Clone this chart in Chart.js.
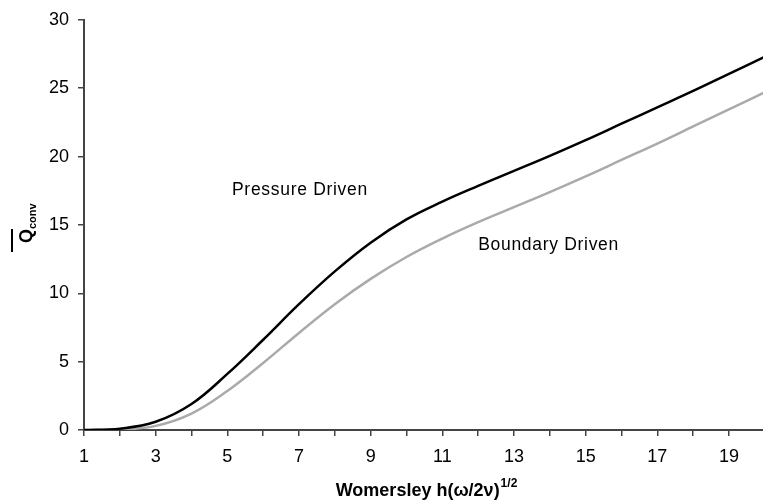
<!DOCTYPE html>
<html>
<head>
<meta charset="utf-8">
<script src="https://cdn.jsdelivr.net/npm/chart.js@4"></script>
<style>
  html, body { margin: 0; padding: 0; background: #fff; }
  #wrap { width: 763px; height: 504px; }
</style>
</head>
<body>
<div id="wrap"><canvas id="chart" width="763" height="504"></canvas></div>
<script>
// dados
const womersley = [1, 2, 3, 4, 5, 6, 7, 8, 9, 10, 11, 12, 13, 14, 15, 16, 17, 18, 19, 20];
const pressureDriven = [0, 0.1, 0.6, 1.9, 4.1, 6.6, 9.2, 11.6, 13.7, 15.4, 16.7, 17.85, 18.95, 20.05, 21.2, 22.4, 23.6, 24.8, 26.05, 27.3];
const boundaryDriven = [0, 0.03, 0.3, 1.2, 2.85, 4.9, 7.1, 9.2, 11.05, 12.65, 14.0, 15.2, 16.3, 17.4, 18.55, 19.75, 20.95, 22.2, 23.45, 24.7];
const xTickLabels = [1, 3, 5, 7, 9, 11, 13, 15, 17, 19];
const yTicks = [0, 5, 10, 15, 20, 25, 30];

const FONT = "'Liberation Sans', Arial, Helvetica, sans-serif";
const AXIS = '#444';

function toPoints(values) {
  return womersley.map((x, i) => ({ x: x, y: values[i] }));
}

// Plugin para desenhar títulos e rótulos das curvas
const textPlugin = {
  id: 'textos',
  afterDraw(chart) {
    const ctx = chart.ctx;
    const xs = chart.scales.x;
    const ys = chart.scales.y;
    ctx.save();
    ctx.fillStyle = '#000';

    // rótulos das curvas
    ctx.font = '17.5px ' + FONT;
    ctx.letterSpacing = '0.7px';
    ctx.textAlign = 'left';
    ctx.textBaseline = 'alphabetic';
    ctx.fillText('Pressure Driven', xs.getPixelForValue(5.13), ys.getPixelForValue(17.2));
    ctx.fillText('Boundary Driven', xs.getPixelForValue(12.0), ys.getPixelForValue(13.16));
    ctx.letterSpacing = '0px';

    // título do eixo x com expoente
    const main = 'Womersley h(\u03C9/2\u03BD)';
    const sup = '1/2';
    ctx.font = 'bold 18px ' + FONT;
    const wMain = ctx.measureText(main).width;
    ctx.font = 'bold 12px ' + FONT;
    const wSup = ctx.measureText(sup).width;
    const startX = 426 - (wMain + wSup) / 2;
    ctx.font = 'bold 18px ' + FONT;
    ctx.fillText(main, startX, 496);
    ctx.font = 'bold 12px ' + FONT;
    ctx.fillText(sup, startX + wMain + 1, 487);

    // título do eixo y: Q com barra e subscrito "conv"
    ctx.translate(32, 243);
    ctx.rotate(-Math.PI / 2);
    ctx.font = 'bold 18px ' + FONT;
    const wQ = ctx.measureText('Q').width;
    ctx.fillText('Q', 0, 0);
    ctx.font = 'bold 11px ' + FONT;
    ctx.fillText('conv', wQ, 4);
    ctx.strokeStyle = '#000';
    ctx.lineWidth = 2;
    ctx.beginPath();
    ctx.moveTo(-9, -20);
    ctx.lineTo(wQ, -20);
    ctx.stroke();
    ctx.restore();
  }
};

const ctx = document.getElementById('chart').getContext('2d');
new Chart(ctx, {
  type: 'line',
  data: {
    datasets: [
      {
        label: 'Pressure Driven',
        data: toPoints(pressureDriven),
        borderColor: '#000',
        borderWidth: 2.5,
        pointRadius: 0,
        fill: false,
        tension: 0.4
      },
      {
        label: 'Boundary Driven',
        data: toPoints(boundaryDriven),
        borderColor: '#aaaaaa',
        borderWidth: 2.5,
        pointRadius: 0,
        fill: false,
        tension: 0.4
      }
    ]
  },
  options: {
    responsive: false,
    animation: false,
    layout: { padding: { top: 15, right: 0, left: 0, bottom: 0 } },
    plugins: {
      legend: { display: false },
      tooltip: { enabled: false }
    },
    scales: {
      x: {
        type: 'linear',
        min: 1,
        max: 19.95,
        afterFit: (scale) => { scale.height = 74; },
        border: { color: AXIS, width: 2 },
        grid: { drawOnChartArea: false, drawTicks: true, tickLength: 6, color: AXIS, lineWidth: 1.5 },
        ticks: {
          stepSize: 1,
          includeBounds: false,
          maxRotation: 0,
          autoSkip: false,
          padding: 10,
          color: '#000',
          font: { family: FONT, size: 18 },
          callback: (v) => xTickLabels.includes(v) ? String(v) : ''
        }
      },
      y: {
        min: 0,
        max: 30,
        afterFit: (scale) => { scale.width = 84; },
        afterBuildTicks: (scale) => { scale.ticks = yTicks.map(v => ({ value: v })); },
        border: { color: AXIS, width: 2 },
        grid: { drawOnChartArea: false, drawTicks: true, tickLength: 6, color: AXIS, lineWidth: 1.5 },
        ticks: {
          padding: 9,
          color: '#000',
          font: { family: FONT, size: 18 }
        }
      }
    }
  },
  plugins: [textPlugin]
});
</script>
</body>
</html>
